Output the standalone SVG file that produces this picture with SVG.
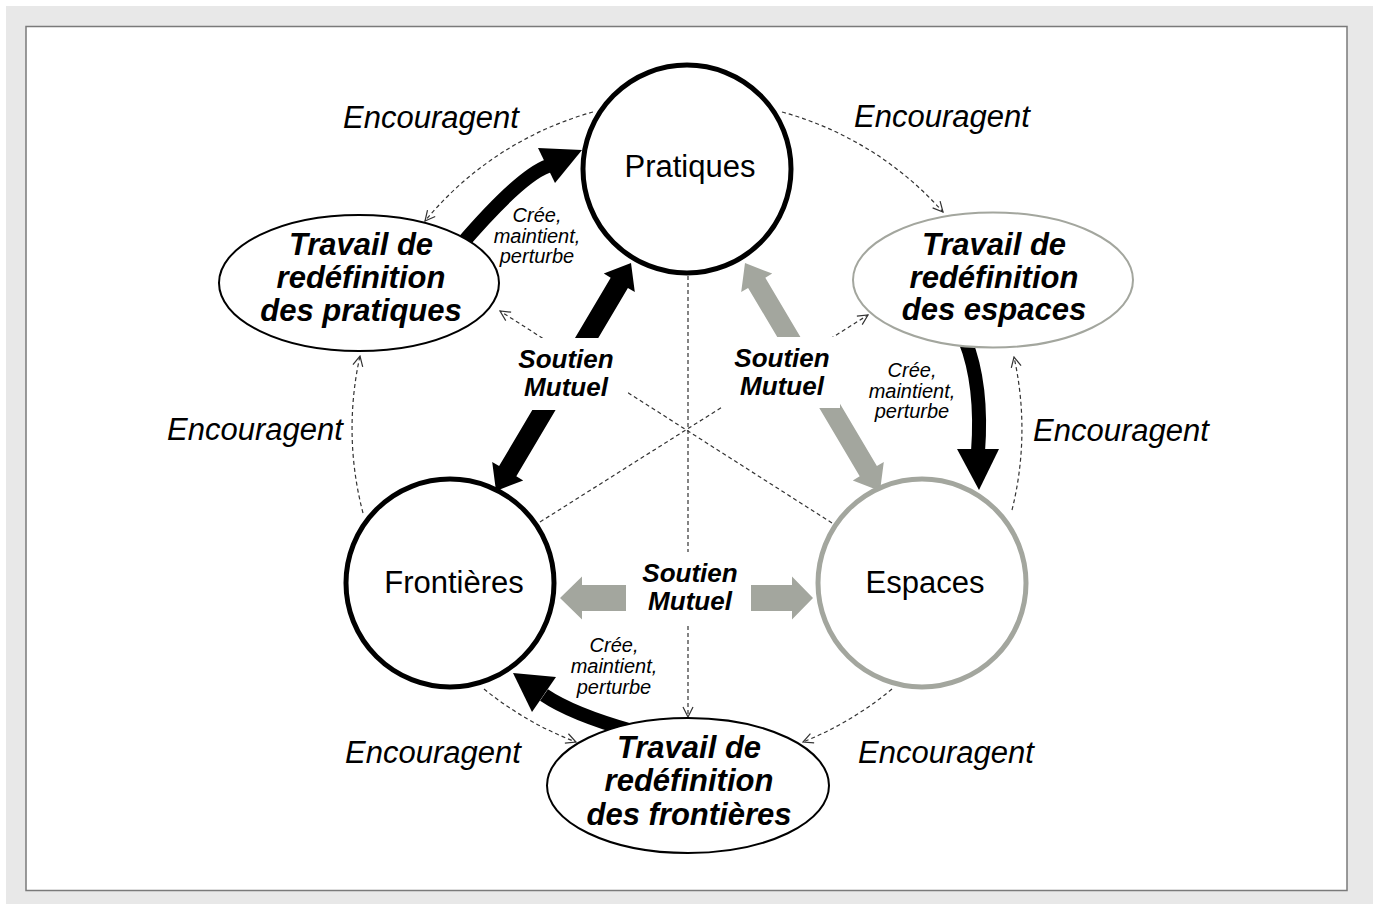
<svg xmlns="http://www.w3.org/2000/svg" width="1373" height="904" viewBox="0 0 1373 904">
<style>
.bg{fill:#e8e8e8}
.panel{fill:#fff;stroke:#7a7a7a;stroke-width:1.5}
.dash{fill:none;stroke:#333;stroke-width:1.2;stroke-dasharray:4 3}
.blk{fill:#000}
.gry{fill:#a3a69e}
.body{fill:none;stroke:#000;stroke-width:14}
.mask{fill:#fff}
.circ{fill:#fff;stroke:#000;stroke-width:5}
.circg{fill:#fff;stroke:#a3a69e;stroke-width:5}
.ell{fill:#fff;stroke:#000;stroke-width:2}
.ellg{fill:#fff;stroke:#a3a69e;stroke-width:2}
text{font-family:"Liberation Sans",Arial,sans-serif;fill:#000;text-anchor:middle}
.node{font-size:31px}
.work{font-size:31px;font-weight:bold;font-style:italic}
.enc{font-size:31px;font-style:italic}
.sm{font-size:26px;font-weight:bold;font-style:italic}
.cmp{font-size:20px;font-style:italic}
</style>
<defs>
<marker id="open" markerUnits="userSpaceOnUse" markerWidth="12" markerHeight="12" viewBox="0 0 12 12" refX="11" refY="6" orient="auto">
<path d="M1,1 L11,6 L1,11" fill="none" stroke="#333" stroke-width="1.2"/>
</marker>
</defs>
<rect class="bg" x="6" y="6" width="1367" height="898"/>
<rect class="panel" x="26" y="26.5" width="1321" height="864"/>

<g id="connectors">
<path class="dash" d="M593,112 A333,333 0 0 0 425,221" marker-end="url(#open)"/>
<path class="dash" d="M782,112 A333,333 0 0 1 943,212" marker-end="url(#open)"/>
<path class="dash" d="M363,513 A333,333 0 0 1 360,356" marker-end="url(#open)"/>
<path class="dash" d="M1012,510 A333,333 0 0 0 1014,357" marker-end="url(#open)"/>
<path class="dash" d="M484,689 A333,333 0 0 0 576,742" marker-end="url(#open)"/>
<path class="dash" d="M892,689 A333,333 0 0 1 803,742" marker-end="url(#open)"/>
<path class="dash" d="M688,276 L688,717" marker-end="url(#open)"/>
<path class="dash" d="M540,522 L868,315" marker-end="url(#open)"/>
<path class="dash" d="M832,523 L500,311" marker-end="url(#open)"/>
<polygon class="blk" points="631,263 634.8,292 627.9,287.9 516.3,476.3 523.2,480.4 496,491 492.2,462 499.1,466.1 610.7,277.7 603.8,273.6"/>
<polygon class="gry" points="745,263 741.2,292 748.1,287.9 859.7,476.3 852.8,480.4 880,491 883.8,462 876.9,466.1 765.3,277.7 772.2,273.6"/>
<polygon class="gry" points="560,598 582,576.5 582,585 792,585 792,576.5 813,598 792,619.5 792,611 582,611 582,619.5"/>
<path class="body" d="M460,246 Q520,176 548,166"/>
<polygon class="blk" points="582,150 538,148 555,183"/>
<path class="body" d="M965,340 Q983,385 978,452"/>
<polygon class="blk" points="979,490 957,449 999,449"/>
<path class="body" d="M632,731 Q572,714 544,695"/>
<polygon class="blk" points="513,673 556,677 532,712"/>
</g>

<g id="label-masks">
<rect class="mask" x="515" y="338" width="113" height="72"/>
<rect class="mask" x="722" y="337" width="118" height="71"/>
<rect class="mask" x="626" y="552" width="125" height="71"/>
</g>

<g id="node-pratiques">
<circle class="circ" cx="687" cy="169" r="104"/>
<text class="node" x="690" y="177">Pratiques</text>
</g>
<g id="node-frontieres">
<circle class="circ" cx="450" cy="583" r="104"/>
<text class="node" x="454" y="593">Frontières</text>
</g>
<g id="node-espaces">
<circle class="circg" cx="922" cy="583" r="104"/>
<text class="node" x="925" y="593">Espaces</text>
</g>
<g id="node-travail-pratiques">
<ellipse class="ell" cx="359" cy="283" rx="140" ry="68"/>
<text class="work"><tspan x="361" y="255">Travail de</tspan><tspan x="361" y="288">redéfinition</tspan><tspan x="361" y="321">des pratiques</tspan></text>
</g>
<g id="node-travail-espaces">
<ellipse class="ellg" cx="993" cy="280" rx="140" ry="67.5"/>
<text class="work"><tspan x="994" y="255">Travail de</tspan><tspan x="994" y="288">redéfinition</tspan><tspan x="994" y="320">des espaces</tspan></text>
</g>
<g id="node-travail-frontieres">
<ellipse class="ell" cx="688" cy="785.5" rx="141" ry="67.5"/>
<text class="work"><tspan x="689" y="758">Travail de</tspan><tspan x="689" y="791">redéfinition</tspan><tspan x="689" y="825">des frontières</tspan></text>
</g>

<g id="labels">
<text class="enc" x="431" y="128">Encouragent</text>
<text class="enc" x="942" y="127">Encouragent</text>
<text class="enc" x="255" y="440">Encouragent</text>
<text class="enc" x="1121" y="441">Encouragent</text>
<text class="enc" x="433" y="763">Encouragent</text>
<text class="enc" x="946" y="763">Encouragent</text>
<text class="sm"><tspan x="566" y="368">Soutien</tspan><tspan x="566" y="396">Mutuel</tspan></text>
<text class="sm"><tspan x="782" y="367">Soutien</tspan><tspan x="782" y="395">Mutuel</tspan></text>
<text class="sm"><tspan x="690" y="582">Soutien</tspan><tspan x="690" y="610">Mutuel</tspan></text>
<text class="cmp"><tspan x="537" y="222">Crée,</tspan><tspan x="537" y="243">maintient,</tspan><tspan x="537" y="263">perturbe</tspan></text>
<text class="cmp"><tspan x="912" y="377">Crée,</tspan><tspan x="912" y="398">maintient,</tspan><tspan x="912" y="418">perturbe</tspan></text>
<text class="cmp"><tspan x="614" y="652">Crée,</tspan><tspan x="614" y="673">maintient,</tspan><tspan x="614" y="694">perturbe</tspan></text>
</g>
</svg>
